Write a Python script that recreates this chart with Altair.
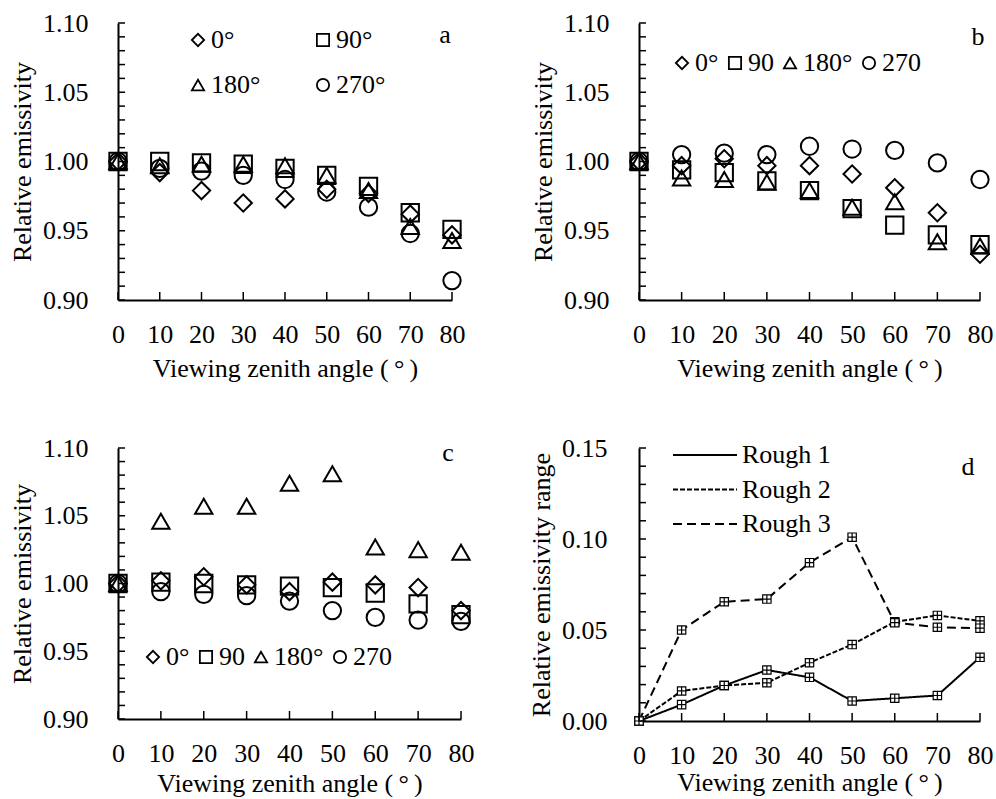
import altair as alt
import numpy as np
import pandas as pd

# ---------------- data ----------------
ANGLES = [0, 10, 20, 30, 40, 50, 60, 70, 80]

AZ_A = ["0°", "90°", "180°", "270°"]
AZ_BC = ["0°", "90", "180°", "270"]
SHAPES = ["diamond", "square", "triangle-up", "circle"]

A_0 = [1.000, 0.992, 0.979, 0.970, 0.973, 0.980, 0.977, 0.962, 0.947]
A_90 = [1.000, 1.000, 0.999, 0.998, 0.995, 0.990, 0.982, 0.963, 0.951]
A_180 = [1.000, 0.997, 0.998, 0.998, 0.997, 0.990, 0.979, 0.953, 0.943]
A_270 = [1.000, 0.995, 0.993, 0.990, 0.987, 0.978, 0.967, 0.948, 0.914]

B_0 = [1.000, 0.997, 1.002, 0.997, 0.997, 0.991, 0.981, 0.963, 0.933]
B_90 = [1.000, 0.994, 0.992, 0.986, 0.979, 0.966, 0.954, 0.947, 0.940]
B_180 = [1.000, 0.988, 0.987, 0.985, 0.979, 0.967, 0.971, 0.942, 0.939]
B_270 = [1.000, 1.005, 1.006, 1.005, 1.011, 1.009, 1.008, 0.999, 0.987]

C_0 = [1.000, 1.002, 1.005, 0.999, 0.994, 1.001, 0.999, 0.997, 0.980]
C_90 = [1.000, 1.001, 1.000, 0.999, 0.998, 0.997, 0.993, 0.985, 0.977]
C_180 = [1.000, 1.046, 1.057, 1.057, 1.074, 1.081, 1.027, 1.025, 1.023]
C_270 = [1.000, 0.994, 0.992, 0.991, 0.987, 0.980, 0.975, 0.973, 0.972]

ROUGH = ["Rough 1", "Rough 2", "Rough 3"]
D_R1 = [0.000, 0.009, 0.0195, 0.028, 0.024, 0.011, 0.0125, 0.014, 0.035]
D_R2 = [0.000, 0.0165, 0.0195, 0.021, 0.032, 0.042, 0.0545, 0.058, 0.055]
D_R3 = [0.000, 0.050, 0.0655, 0.067, 0.087, 0.101, 0.054, 0.0515, 0.051]
DASHES = [[1, 0], [5, 2], [9, 5]]

Y_TICKS_E = [0.90, 0.91, 0.92, 0.93, 0.94, 0.95, 0.96, 0.97, 0.98, 0.99, 1.00,
             1.01, 1.02, 1.03, 1.04, 1.05, 1.06, 1.07, 1.08, 1.09, 1.10]
Y_LABELS_E = [0.90, 0.95, 1.00, 1.05, 1.10]
Y_TICKS_D = [0.00, 0.01, 0.02, 0.03, 0.04, 0.05, 0.06, 0.07, 0.08, 0.09, 0.10,
             0.11, 0.12, 0.13, 0.14, 0.15]
Y_LABELS_D = [0.00, 0.05, 0.10, 0.15]

FONT = "Liberation Serif"
FS = 26
BOXPLUS = "M-1,-1H1V1H-1Z M0,-1V1 M-1,0H1"

XT = "Viewing zenith angle (\u2009°\u2009)"


def x_axis(title_pad):
    return alt.Axis(values=ANGLES, format="d", title=XT, ticks=False, tickSize=0,
                    labelPadding=21, titlePadding=title_pad, labelFlush=False,
                    labelOverlap=False, grid=False)


def y_axis(values, title, lab_pad):
    return alt.Axis(values=values, format=".2f", title=title, ticks=False, tickSize=0,
                    labelPadding=lab_pad, titlePadding=7.5, labelFlush=False,
                    labelOverlap=False, grid=False)


def tick_layers(xs, ys, h, yticks, xax, yax):
    xt = alt.Chart(pd.DataFrame({"t": ANGLES})).mark_rule(color="black", strokeWidth=1.5).encode(
        x=alt.X("t:Q", scale=xs, axis=xax), y=alt.value(h), y2=alt.value(h - 8))
    yt = alt.Chart(pd.DataFrame({"t": yticks})).mark_rule(color="black", strokeWidth=1.5).encode(
        y=alt.Y("t:Q", scale=ys, axis=yax), x=alt.value(0), x2=alt.value(7))
    return [xt, yt]


def letter_layer(letter, px, py):
    return alt.Chart(pd.DataFrame({"t": [letter]})).mark_text(
        font=FONT, fontSize=FS, color="black", align="center", baseline="middle").encode(
        text="t:N", x=alt.value(px), y=alt.value(py))


def scatter_panel(series, labels, w, h, leg, letter, lpos, title_pad):
    df = pd.DataFrame({
        "angle": ANGLES * 4,
        "value": [v for s in series for v in s],
        "az": [lab for lab in labels for _ in ANGLES],
    })
    xs = alt.Scale(domain=[0, 80], nice=False, zero=False)
    ys = alt.Scale(domain=[0.90, 1.10], nice=False, zero=False)
    xax = x_axis(title_pad)
    yax = y_axis(Y_LABELS_E, "Relative emissivity", 30)
    pts = alt.Chart(df).mark_point(filled=False, size=300, strokeWidth=2, color="black", opacity=1).encode(
        x=alt.X("angle:Q", scale=xs, axis=xax),
        y=alt.Y("value:Q", scale=ys, axis=yax),
        shape=alt.Shape("az:N", sort=labels,
                        scale=alt.Scale(domain=labels, range=SHAPES),
                        legend=alt.Legend(**leg)),
    )
    layers = [pts] + tick_layers(xs, ys, h, Y_TICKS_E, xax, yax) + [letter_layer(letter, *lpos)]
    return alt.layer(*layers).properties(width=w, height=h)


LEG_COMMON = dict(orient="none", title=None, direction="horizontal", labelFont=FONT,
                  labelFontSize=FS, labelColor="black", symbolSize=150, symbolStrokeWidth=1.8,
                  symbolStrokeColor="black", symbolFillColor="transparent", symbolOffset=3,
                  labelOffset=0, padding=0, clipHeight=26, labelLimit=0)

leg_a = dict(LEG_COMMON, legendX=64, legendY=4, columns=2, columnPadding=46, rowPadding=19)
leg_b = dict(LEG_COMMON, legendX=27, legendY=27, columns=4, columnPadding=-1, rowPadding=0)
leg_c = dict(LEG_COMMON, legendX=19, legendY=196, columns=4, columnPadding=-3.5, rowPadding=0)

pa = scatter_panel([A_0, A_90, A_180, A_270], AZ_A, 334, 277, leg_a, "a", (327, 12), 8.5)
pb = scatter_panel([B_0, B_90, B_180, B_270], AZ_BC, 341, 277, leg_b, "b", (339, 14), 8.5)
pc = scatter_panel([C_0, C_90, C_180, C_270], AZ_BC, 343, 271, leg_c, "c", (330, 5), 4.5)

# ---------------- panel d ----------------
dfd = pd.DataFrame({
    "angle": ANGLES * 3,
    "value": D_R1 + D_R2 + D_R3,
    "rough": [r for r in ROUGH for _ in ANGLES],
})
xs_d = alt.Scale(domain=[0, 80], nice=False, zero=False)
ys_d = alt.Scale(domain=[0.0, 0.15], nice=False, zero=False)
HD = 273
xax_d = x_axis(1.5)
yax_d = y_axis(Y_LABELS_D, "Relative emissivity range", 32)
lines_d = alt.Chart(dfd).mark_line(color="black", strokeWidth=2).encode(
    x=alt.X("angle:Q", scale=xs_d, axis=xax_d),
    y=alt.Y("value:Q", scale=ys_d, axis=yax_d),
    strokeDash=alt.StrokeDash("rough:N", scale=alt.Scale(domain=ROUGH, range=DASHES),
                              legend=alt.Legend(orient="none", legendX=33, legendY=-6, title=None,
                                                direction="vertical", labelFont=FONT, labelFontSize=FS,
                                                labelColor="black", symbolType="stroke", symbolSize=4096,
                                                symbolStrokeWidth=2, symbolStrokeColor="black",
                                                symbolOffset=0, labelOffset=4, padding=0,
                                                clipHeight=26, rowPadding=8.5, labelLimit=0)),
)
pts_d = alt.Chart(dfd).mark_point(shape=BOXPLUS, filled=True, fill="white", stroke="black",
                                  strokeWidth=1.2, size=70, opacity=1).encode(
    x=alt.X("angle:Q", scale=xs_d, axis=xax_d),
    y=alt.Y("value:Q", scale=ys_d, axis=yax_d),
    detail="rough:N",
)
pd_chart = alt.layer(*([lines_d, pts_d] + tick_layers(xs_d, ys_d, HD, Y_TICKS_D, xax_d, yax_d)
                       + [letter_layer("d", 329, 19)])).properties(width=341, height=HD)

chart = alt.concat(pa, pb, pc, pd_chart, columns=2, spacing={"row": 148, "column": 178},
                   bounds="flush").resolve_scale(
    shape="independent", strokeDash="independent").resolve_legend(
    shape="independent", strokeDash="independent").properties(
    padding={"left": 9, "top": 10, "right": 0, "bottom": 0},
    background="white",
).configure_view(stroke=None).configure_axis(
    domainColor="black", domainWidth=2, labelFont=FONT, labelFontSize=FS, labelColor="black",
    titleFont=FONT, titleFontSize=FS, titleFontWeight="normal", titleColor="black",
).configure_text(font=FONT)

chart.save("out.html", embed_options={"renderer": "svg", "actions": False})
